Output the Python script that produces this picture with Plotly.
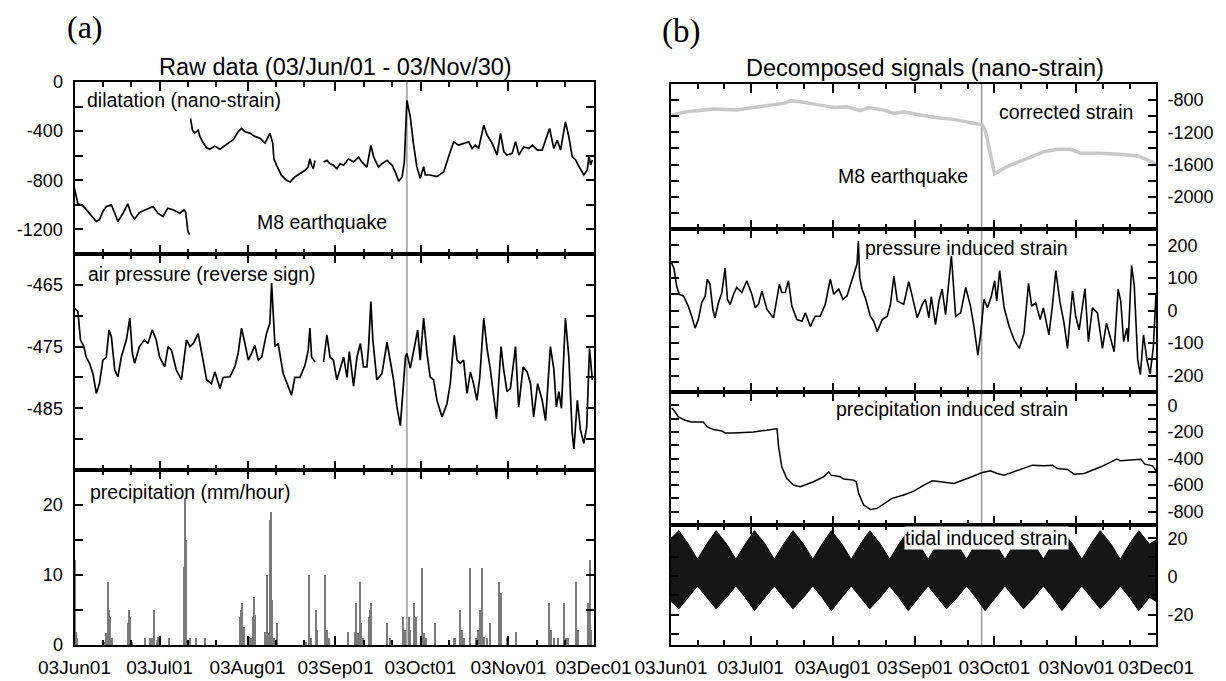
import pandas as pd
import plotly.graph_objects as go

W, H = 1226, 681
OX, OY = 8, 8          # page body margin offset
BASE = pd.Timestamp("2003-06-01")
EQ_TIME = "2003-09-26 04:50:00"
FONT = "Liberation Sans, Arial, Helvetica, sans-serif"
SERIF = "Liberation Serif, Times New Roman, serif"

# ---------------- data (days since 2003-06-01) ----------------
# (a) dilatation, nano-strain
dil_day = [0, 0.4, 1.2, 3, 5.3, 7.7, 8.8, 10, 11.2, 13,
           14.2, 15.3, 17.1, 18.8, 20, 21.2, 22.9, 25.3, 27.7, 29.4,
           31.2, 32.9, 34.7, 37.1, 38.6, 39.2, 40, 40.6, None, 40.9,
           41.6, 42.4, 43.6, 44.2, 45.4, 46.6, 47.7, 49.5, 51.3, 53.6,
           56, 57.7, 58.9, 60.1, 61.8, 63.6, 65.4, 67.2, 68.3, 68.9,
           69.9, 70.3, 71.3, 73, 74.8, 76, 77.7, 79.5, 81.3, 82.4,
           83, 83.6, 84.2, 84.8, None, 87.8, 89, 90.1, 91.3, 92.5,
           93.7, 94.9, 96.6, 98.4, 100.2, 101.3, 103.1, 104.5, 105.5, 107.2,
           108.4, 110.2, 112, 113.1, 114.3, 115.5, 116.3, 117.2, 118.4, 119.5,
           120.7, 121.9, 123.1, 123.7, 125.4, 127.8, 130.2, 131.9, 133.7, 135.4,
           137.2, 139, 140.2, 141.3, 142.5, 144.3, 145.5, 147.3, 149, 150.2,
           151.4, 152.5, 154.3, 155.5, 156.7, 158.4, 160.2, 161.4, 163.2, 164.9,
           167.5, 169, 170.2, 171.4, 173.1, 174.3, 175.5, 176.7, 177.9, 179.6,
           180.8, 181.4, 182, 182.6]
dil_val = [-865, -905, -992, -1008, -1067, -1135, -1120, -1054, -1014, -1000,
           -1068, -1135, -1068, -992, -1076, -1116, -1062, -1040, -1014, -1068,
           -1095, -1027, -1040, -1068, -1040, -1060, -1217, -1243, None, -297,
           -392, -416, -392, -443, -497, -535, -548, -522, -548, -508,
           -470, -405, -378, -405, -416, -443, -457, -497, -443, -416,
           -497, -625, -680, -760, -800, -814, -773, -746, -719, -692,
           -625, -678, -705, -638, None, -651, -638, -665, -678, -705,
           -665, -678, -625, -651, -611, -651, -692, -517, -611, -692,
           -665, -638, -678, -732, -808, -773, -651, -149, -284, -500,
           -689, -784, -689, -757, -757, -770, -730, -608, -487, -514,
           -500, -487, -541, -514, -541, -351, -433, -500, -595, -419,
           -568, -595, -581, -487, -595, -527, -541, -514, -554, -554,
           -378, -541, -473, -554, -324, -446, -608, -635, -689, -757,
           -716, -608, -676, -635]

# (a) air pressure (reverse sign)
air_day = [0, 1.2, 2.1, 3.3, 4.1, 5.3, 6.5, 7.7, 8.8, 10,
           11.2, 12.2, 13, 14.2, 15.3, 16.5, 18.3, 19.5, 20.4, 21.2,
           22.9, 24.7, 25.9, 27.4, 28.8, 30, 31.8, 33, 34.2, 35.9,
           37.7, 39.5, 40.7, 41.9, 43.6, 44.8, 46.6, 48.3, 49.5, 51.3,
           52.4, 54.8, 56.5, 57.7, 58.9, 60.1, 61.3, 62.4, 63.6, 64.8,
           66, 67.7, 68.9, 69.5, 70.1, 70.7, 71.8, 73.6, 75.4, 76.5,
           77.7, 79.5, 81.3, 82.4, 83, 83.6, 84.8, None, 87.8, 89,
           90.1, 91.3, 92.5, 93.7, 94.9, 96.1, 96.9, 98.4, 99.6, 100.8,
           101.9, 103.1, 103.7, 104.5, 105.2, 106.6, 108.4, 110.2, 111.4, 112.5,
           113.7, 114.9, 116.1, 116.7, 117.2, 118.4, 120.1, 121, 121.9, 123.1,
           124.3, 125.4, 126.6, 127.8, 129.6, 131.3, 132.5, 133.9, 134.9, 136,
           137.2, 138.4, 139.6, 140.7, 141.9, 142.9, 144.3, 145.5, 146.6, 147.8,
           148.8, 149.6, 150.4, 151.3, 152.5, 153.7, 155.5, 156.6, 158.2, 159.6,
           160.8, 161.9, 163.3, 164.9, 166.1, 167.8, 169, 169.9, 170.8, 171.7,
           173.1, 174.3, 175.5, 176.1, 177.3, 178.4, 179.6, 180.6, 181.6, 182.6]
air_val = [-468.8, -469.3, -473.9, -475.0, -476.7, -477.7, -479.4, -482.6, -481.0, -477.2,
           -476.7, -472.3, -473.4, -478.8, -479.9, -476.7, -473.9, -470.4, -476.1, -477.7,
           -475.0, -473.9, -474.5, -472.3, -473.9, -476.7, -478.3, -475.0, -475.6, -478.8,
           -480.4, -473.9, -475.0, -474.5, -472.9, -476.1, -480.4, -481.0, -479.1, -481.8,
           -480.0, -479.9, -478.3, -476.1, -472.0, -474.5, -477.2, -476.1, -474.8, -477.2,
           -476.7, -472.9, -471.2, -464.7, -469.6, -475.0, -474.5, -479.4, -481.5, -482.9,
           -480.0, -480.0, -478.0, -475.6, -472.0, -476.7, -477.5, None, -477.5, -473.1,
           -476.7, -477.2, -480.4, -478.6, -476.7, -480.0, -475.8, -481.4, -476.7, -474.5,
           -478.3, -478.3, -475.0, -467.7, -473.9, -480.4, -479.4, -474.3, -477.5, -480.4,
           -484.8, -487.8, -480.4, -476.7, -476.1, -478.5, -474.5, -472.3, -477.2, -470.4,
           -476.1, -479.9, -480.4, -483.7, -486.4, -484.3, -481.0, -473.1, -477.2, -477.7,
           -477.2, -482.6, -479.1, -481.0, -483.7, -480.0, -470.4, -475.4, -478.6, -483.5,
           -486.7, -480.7, -475.0, -478.6, -482.3, -481.8, -475.0, -484.8, -478.3, -479.1,
           -481.0, -486.4, -481.0, -483.7, -487.0, -475.0, -478.6, -484.8, -482.3, -485.0,
           -470.4, -476.7, -489.1, -491.6, -483.7, -488.5, -490.7, -488.0, -475.3, -480.4]

# (a) precipitation, mm/hour
prec_day = [0.1, 0.35, 0.8, 10.2, 11.0, 11.5, 12.0, 12.5, 13.0, 18.6,
            19.2, 19.5, 20.1, 24.7, 26.3, 27.1, 27.8, 28.9, 29.4, 33.2,
            38.5, 38.9, 39.2, 40.6, 42.8, 45.7, 49.8, 58.1, 58.5, 58.9,
            59.5, 61.2, 62.1, 62.7, 63.0, 63.4, 67.1, 67.6, 68.1, 68.7,
            69.1, 69.6, 70.3, 71.3, 81.3, 82.7, 83.3, 84.9, 85.4, 88.3,
            88.8, 89.5, 96.3, 98.7, 99.2, 99.8, 100.5, 101.0, 101.7, 103.6,
            104.0, 104.5, 110.1, 111.1, 115.8, 116.3, 117.8, 118.1, 119.6, 120.1,
            121.9, 122.5, 123.1, 123.9, 126.9, 131.9, 133.5, 133.9, 135.8, 136.4,
            137.2, 139.2, 141.3, 142.2, 142.9, 143.7, 144.3, 145.2, 146.4, 149.6,
            150.2, 152.5, 155.5, 167.3, 167.8, 169.0, 170.4, 172.4, 173.1, 174.0,
            176.7, 177.3, 180.8, 181.5, 182.0]
prec_val = [12.1, 1.9, 1.0, 0.5, 1.7, 9.0, 5.0, 4.0, 1.0, 3.1,
            5.0, 4.0, 0.5, 1.0, 1.0, 1.0, 5.0, 0.7, 1.2, 1.0,
            11.2, 21.0, 15.0, 1.0, 1.0, 1.0, 0.5, 4.0, 5.0, 6.0,
            2.6, 1.2, 1.0, 4.0, 6.9, 4.3, 1.9, 10.0, 1.7, 17.9,
            19.0, 6.4, 1.0, 3.1, 0.5, 10.0, 1.0, 5.0, 2.1, 10.0,
            2.1, 1.0, 1.9, 1.9, 6.0, 1.7, 9.0, 3.1, 1.0, 4.0,
            5.0, 6.0, 3.1, 1.0, 4.0, 2.1, 4.0, 2.1, 6.0, 4.0,
            1.2, 11.0, 1.7, 1.0, 3.1, 0.5, 1.0, 1.0, 5.0, 2.1,
            1.0, 11.0, 1.0, 2.1, 5.0, 11.0, 1.2, 1.0, 3.1, 9.0,
            7.4, 1.0, 1.9, 6.0, 2.1, 1.0, 1.0, 6.0, 1.0, 1.0,
            9.0, 2.1, 6.0, 12.1, 2.1]

# (b) corrected strain
cor_day = [0, 5.9, 16, 24.8, 31.1, 37.4, 42.5, 45, 48.8, 56.3,
           61.4, 66.4, 71.5, 74.6, 80.3, 84, 87.8, 94.1, 100.5, 106.7,
           113, 117.5, 118.7, 120.6, 122.1, 124.4, 128.2, 134.5, 140.8, 145.8,
           150.9, 154.6, 160.9, 169.7, 176.1, 179.8, 183]
cor_val = [-990, -945, -911, -924, -891, -862, -841, -808, -820, -862,
           -891, -882, -932, -891, -924, -965, -945, -986, -1020, -1039,
           -1076, -1110, -1192, -1502, -1716, -1667, -1605, -1522, -1440, -1411,
           -1411, -1460, -1460, -1472, -1493, -1543, -1593]

# (b) pressure induced strain
pin_day = [0, 1.1, 2.1, 3.1, 4.7, 6.5, 7.8, 9.1, 10.3, 11.6,
           12.9, 13.7, 14.7, 15.8, 16.6, 17.9, 19.2, 20.4, 21.3, 22.3,
           23.6, 24.8, 26.7, 28.6, 30.5, 31.8, 33, 34.3, 36.2, 38.7,
           40.9, 41.8, 43.1, 44.3, 45.6, 47.5, 49.4, 50.7, 52.6, 54.4,
           56.3, 58.2, 60.1, 61.4, 63.3, 64.9, 66.4, 68.9, 70.2, 70.7,
           71.2, 72.1, 73.3, 75.2, 76.5, 77.8, 79.7, 81.6, 82.8, 84.1,
           85.4, 87.8, 89.7, 91, 92.9, 94.8, 96, 97.3, 98.2, 99.8,
           101.1, 102.3, 103.6, 105.8, 107.4, 109.3, 111.2, 113, 114.3, 115.8,
           116.8, 118.1, 119.4, 120.9, 122.1, 122.9, 124, 125.7, 127.6, 129.5,
           131.4, 133.2, 134.9, 136.1, 137.6, 139.3, 140.5, 142.6, 143.9, 145.2,
           146.8, 148.3, 149.6, 151.5, 152.7, 154, 156.2, 157.5, 159, 160.9,
           162.8, 164.3, 165.7, 167.2, 168.7, 169.7, 170.8, 172, 172.5, 173.8,
           174.8, 176.1, 177.1, 178.3, 179.6, 180.8, 182, 183]
pin_val = [150, 130, 75.8, 49.8, 44.7, 13.5, -17.7, -54, -28, 23.9,
           44.7, 96.6, 81, 3, -22.8, 23.9, 55, 129.8, 34.3, 18.7,
           49.8, 70.6, 55, 91.4, 49.8, 8.3, 18.7, 60.2, 3.1, -22.8,
           81, 55, 55, 91.4, 13.5, -28, -33.2, -7.3, -48.8, -17.7,
           -17.7, 18.7, 96.6, 49.8, 65.4, 34.3, 44.7, 107, 143.3, 212.9,
           101.8, 65.4, 39.5, -17.7, -33.2, -64.4, -28, -17.7, 18.7, 104.9,
           29.1, 18.7, 88.3, 44.7, -22.8, 18.7, 34.3, -22.8, 42.6, -43.6,
           29, 65.4, -12.5, 167.2, -17.7, -7.3, 70.6, 13.5, -48.8, -137.1,
           -74.8, 34.3, 8.3, 44.7, 91.4, 29, 122.5, 8.3, -48.8, -90.3,
           -116.3, -69.6, 83.1, 13.5, 23.9, -28, 8.3, -74.8, 13.5, 122.5,
           23.9, -38.4, -116.3, 60.2, -17.7, -59.2, 67.5, -95.5, 8.3, -7.3,
           -116.3, -38.4, -80, -126.7, 65.4, 29, -95.5, -54, -95.5, 138.1,
           75.8, -152.6, -196.3, -74.8, -152.6, -194.2, -111.1, 49.8]

# (b) precipitation induced strain
rin_day = [0.3, 1.1, 2.8, 5.3, 7.8, 12.2, 13.7, 16, 19.2, 20.4,
           23.6, 31.1, 36.2, 40, 40.6, 41.8, 43.7, 46.2, 48.8, 53.8,
           57.6, 59.5, 60.4, 63.9, 65.1, 68.9, 69.9, 70.8, 72.7, 75.2,
           77.8, 81.6, 83.4, 87.8, 91.6, 95.4, 98.6, 101.7, 106.7, 111.8,
           117.5, 120.6, 123.1, 125.7, 130.7, 136.4, 140.8, 143.9, 145.8, 149.6,
           152.1, 155.9, 162.2, 168.2, 169.7, 173.5, 177.3, 178.8, 181.7, 183]
rin_val = [-20, -37.5, -87.5, -112.5, -125, -125, -162.5, -182.5, -192.5, -207.5,
           -207.5, -200, -187.5, -175, -312.5, -462.5, -550, -600, -612.5, -575,
           -537.5, -500, -525, -537.5, -555, -562.5, -575, -662.5, -750, -782.5,
           -775, -725, -700, -675, -645, -600, -567.5, -575, -587.5, -550,
           -505, -492.5, -512.5, -525, -487.5, -450, -455, -450, -475, -482.5,
           -517.5, -512.5, -462.5, -405, -417.5, -412.5, -405, -442.5, -455, -492.5]

# (b) tidal induced strain: envelope (upper / lower extremes)
tid_day = [0, 3, 6.5, 10, 13.5, 17, 21, 24.5, 28, 31.5,
           35.5, 39, 42.5, 46, 50, 53.5, 57, 60.5, 64.5, 68,
           71.5, 75, 79, 82.5, 86, 89.5, 93.5, 97, 100.5, 104,
           108, 111.5, 115, 118.5, 122.5, 126, 129.5, 133, 137, 140.5,
           144, 147.5, 151.5, 155, 158.5, 162, 166, 169.5, 173, 176.5,
           180.5, 183]
tid_up = [20, 24, 17, 9, 17, 24, 17, 9, 17, 24,
          17, 9, 17, 24, 17, 9, 17, 24, 17, 9,
          17, 24, 17, 9, 17, 24, 17, 9, 17, 24,
          17, 9, 17, 24, 17, 9, 17, 24, 17, 9,
          17, 24, 17, 9, 17, 24, 17, 9, 17, 24,
          17, 19]
tid_lo = [-13, -17, -11, -5, -11, -17, -11, -5, -11, -18,
          -11, -5, -11, -17, -11, -5, -11, -18, -11, -5,
          -11, -17, -11, -5, -11, -18, -11, -5, -11, -17,
          -11, -5, -11, -18, -11, -5, -11, -17, -11, -5,
          -11, -18, -11, -5, -11, -17, -11, -5, -11, -18,
          -11, -13]

month_ticks = ["2003-06-01", "2003-07-01", "2003-08-01", "2003-09-01",
               "2003-10-01", "2003-11-01", "2003-12-01"]
minor_ticks = [f"2003-{m:02d}-{d}" for m in range(6, 12) for d in (11, 21)]


def to_dates(days):
    return [None if d is None else
            (BASE + pd.Timedelta(days=d)).strftime("%Y-%m-%d %H:%M:%S")
            for d in days]


def px(x):
    return (x - OX) / W


def py(y):
    return 1 - (y - OY) / H


def xd(a, b):
    return [px(a), px(b)]


def yd(top, bottom):
    return [py(bottom), py(top)]


def xaxis(domain, anchor, labels):
    return dict(domain=domain, anchor=anchor, type="date", automargin=False,
                range=["2003-06-01", "2003-12-01"],
                showline=True, linecolor="black", linewidth=2, mirror="ticks",
                ticks="inside", ticklen=9, tickwidth=1.5, tickcolor="black",
                tickmode="array", tickvals=month_ticks, tickformat="%y%b%d",
                showticklabels=labels, ticklabelstandoff=4, tickangle=0,
                tickfont=dict(family=FONT, size=19, color="black"),
                minor=dict(tickmode="array", tickvals=minor_ticks, ticks="inside",
                           ticklen=5, tickwidth=1.5, tickcolor="black"),
                showgrid=False, zeroline=False, fixedrange=True)


def yaxis(domain, anchor, rng, vals, mdt, side):
    return dict(domain=domain, anchor=anchor, range=rng, side=side, automargin=False,
                showline=True, linecolor="black", linewidth=2, mirror="ticks",
                ticks="inside", ticklen=8, tickwidth=1.5, tickcolor="black",
                tickmode="array", tickvals=vals, ticktext=[str(v) for v in vals],
                ticklabelstandoff=6,
                tickfont=dict(family=FONT, size=18, color="black"),
                minor=dict(dtick=mdt, tick0=0, ticks="inside", ticklen=8,
                           tickwidth=1.5, tickcolor="black"),
                showgrid=False, zeroline=False, fixedrange=True)


LX = xd(74.5, 593.5)
RX = xd(671, 1156)

fig = go.Figure()
fig.add_trace(go.Scatter(x=to_dates(dil_day), y=dil_val, mode="lines",
                         line=dict(color="black", width=1.7), connectgaps=False,
                         xaxis="x", yaxis="y"))
fig.add_trace(go.Scatter(x=to_dates(air_day), y=air_val, mode="lines",
                         line=dict(color="black", width=1.7), connectgaps=False,
                         xaxis="x2", yaxis="y2"))
fig.add_trace(go.Bar(x=to_dates(prec_day), y=prec_val, width=0.4 * 86400000,
                     marker=dict(color="#7a7a7a", line=dict(width=0)),
                     xaxis="x3", yaxis="y3"))
fig.add_trace(go.Scatter(x=to_dates(cor_day), y=cor_val, mode="lines",
                         line=dict(color="#c8c8c8", width=3.5),
                         xaxis="x4", yaxis="y4"))
fig.add_trace(go.Scatter(x=to_dates(pin_day), y=pin_val, mode="lines",
                         line=dict(color="black", width=1.6),
                         xaxis="x5", yaxis="y5"))
fig.add_trace(go.Scatter(x=to_dates(rin_day), y=rin_val, mode="lines",
                         line=dict(color="black", width=1.5),
                         xaxis="x6", yaxis="y6"))
fig.add_trace(go.Scatter(x=to_dates(tid_day + tid_day[::-1]),
                         y=tid_up + tid_lo[::-1], mode="lines", fill="toself",
                         fillcolor="#151515", line=dict(color="black", width=1),
                         xaxis="x7", yaxis="y7"))

fig.update_layout(
    width=W, height=H, margin=dict(l=0, r=0, t=0, b=0, autoexpand=False),
    paper_bgcolor="white", plot_bgcolor="rgba(0,0,0,0)", showlegend=False,
    bargap=0,
    xaxis=xaxis(LX, "y", False),
    xaxis2=xaxis(LX, "y2", False),
    xaxis3=xaxis(LX, "y3", True),
    xaxis4=xaxis(RX, "y4", False),
    xaxis5=xaxis(RX, "y5", False),
    xaxis6=xaxis(RX, "y6", False),
    xaxis7=xaxis(RX, "y7", True),
    yaxis=yaxis(yd(82, 254), "x", [-1400, 0], [0, -400, -800, -1200], 200, "left"),
    yaxis2=yaxis(yd(254, 470), "x2", [-495, -460], [-465, -475, -485], 5, "left"),
    yaxis3=yaxis(yd(470, 645), "x3", [0, 25], [0, 10, 20], 5, "left"),
    yaxis4=yaxis(yd(84, 229), "x4", [-2400, -600], [-800, -1200, -1600, -2000], 200, "right"),
    yaxis5=yaxis(yd(229, 392), "x5", [-250, 250], [200, 100, 0, -100, -200], 50, "right"),
    yaxis6=yaxis(yd(392, 525), "x6", [-900, 100], [0, -200, -400, -600, -800], 100, "right"),
    yaxis7=yaxis(yd(525, 645), "x7", [-36, 27], [20, 0, -20], 10, "right"),
)

fig.add_shape(type="line", xref="x", yref="paper", x0=EQ_TIME, x1=EQ_TIME,
              y0=py(645), y1=py(82), layer="below",
              line=dict(color="#9a9a9a", width=1.5))
fig.add_shape(type="line", xref="x4", yref="paper", x0=EQ_TIME, x1=EQ_TIME,
              y0=py(645), y1=py(84), layer="below",
              line=dict(color="#9a9a9a", width=1.5))


def note(text, x, y, size=19.5, xanchor="left", family=FONT, bg=None):
    fig.add_annotation(text=text, x=px(x), y=py(y), xref="paper", yref="paper",
                       xanchor=xanchor, yanchor="middle", showarrow=False,
                       bgcolor=bg, borderpad=0,
                       font=dict(family=family, size=size, color="black"))


note("(a)", 66, 27, size=32, family=SERIF)
note("(b)", 661, 31, size=33, family=SERIF)
note("Raw data (03/Jun/01 - 03/Nov/30)", 335, 67, size=23.5, xanchor="center")
note("Decomposed signals (nano-strain)", 925, 68, size=23.5, xanchor="center")
note("dilatation (nano-strain)", 86, 100)
note("M8 earthquake", 388, 222, xanchor="right")
note("air pressure (reverse sign)", 87, 274)
note("precipitation (mm/hour)", 89, 492)
note("corrected strain", 1134, 112, xanchor="right")
note("M8 earthquake", 837, 176)
note("pressure induced strain", 1069, 248, xanchor="right")
note("precipitation induced strain", 1069, 409, xanchor="right")
note("tidal induced strain", 1069, 538, xanchor="right", bg="white")

fig.write_html("out.html")
